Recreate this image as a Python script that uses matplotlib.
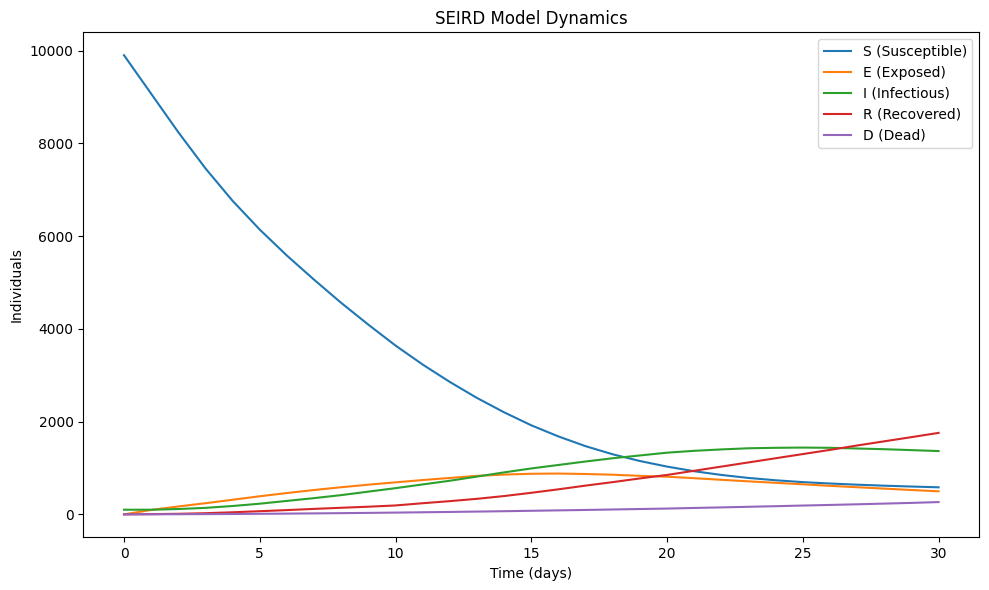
#!/usr/bin/env python3

from matplotlib import pyplot

days = list(range(31))

susceptible = [9900, 9070, 8240, 7460, 6760, 6140, 5580, 5060, 4560, 4090,
               3640, 3230, 2855, 2510, 2200, 1920, 1680, 1470, 1295, 1150,
               1030, 930, 850, 785, 735, 695, 665, 640, 618, 600, 583]
exposed = [0, 95, 170, 240, 315, 390, 460, 525, 585, 640,
           690, 740, 785, 830, 858, 875, 880, 870, 855, 830,
           812, 780, 745, 712, 680, 648, 615, 585, 555, 525, 497]
infectious = [100, 100, 115, 140, 180, 230, 290, 350, 415, 490,
              565, 645, 725, 815, 905, 990, 1065, 1140, 1210, 1270,
              1330, 1370, 1400, 1425, 1435, 1440, 1435, 1420, 1405, 1385, 1365]
recovered = [0, 5, 12, 25, 45, 68, 92, 118, 142, 165,
             192, 240, 285, 335, 395, 465, 540, 620, 695, 775,
             850, 940, 1030, 1120, 1210, 1300, 1390, 1485, 1575, 1665, 1757]
dead = [0, 1, 3, 5, 8, 12, 16, 21, 26, 32,
        38, 45, 52, 60, 68, 77, 86, 95, 105, 115,
        125, 138, 150, 163, 176, 190, 203, 217, 232, 247, 265]

fig, ax = pyplot.subplots(figsize=(9.89, 5.9), dpi=100)

ax.plot(days, susceptible, label='S (Susceptible)')
ax.plot(days, exposed, label='E (Exposed)')
ax.plot(days, infectious, label='I (Infectious)')
ax.plot(days, recovered, label='R (Recovered)')
ax.plot(days, dead, label='D (Dead)')

ax.set_xlabel("Time (days)")
ax.set_ylabel("Individuals")
ax.set_title("SEIRD Model Dynamics")
ax.legend(loc='upper right')

fig.subplots_adjust(left=0.0842, right=0.9902, top=0.9453, bottom=0.0893)
fig.savefig("out.png", dpi=100)
